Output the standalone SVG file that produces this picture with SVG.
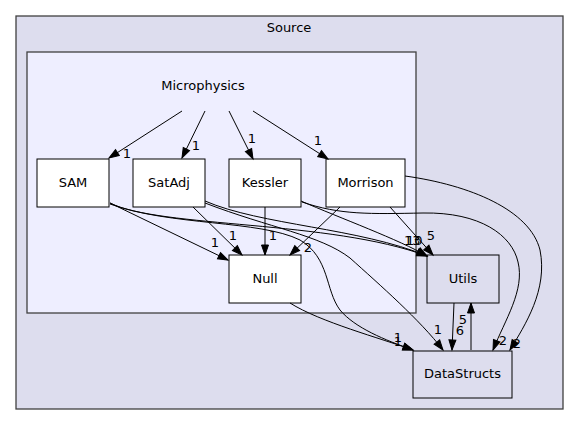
<svg xmlns="http://www.w3.org/2000/svg" width="579" height="425" viewBox="0 0 579 425">
<defs>
<marker id="ah" markerUnits="userSpaceOnUse" markerWidth="10" markerHeight="8" refX="10" refY="3.5" orient="auto" overflow="visible">
<path d="M0,0 L10,3.5 L0,7 z" fill="#000" stroke="#000" stroke-width="1"/>
</marker>
<style>
text{font-family:"DejaVu Sans","Noto Sans",sans-serif;font-size:13px;fill:#000}
.c{text-anchor:middle}
.node rect{fill:#fff;stroke:#000;stroke-width:1}
.edges path{fill:none;stroke:#000;stroke-width:1;marker-end:url(#ah)}
</style>
</defs>
<rect width="579" height="425" fill="#fff"/>
<g id="cluster_source">
<rect x="16" y="16" width="547" height="393" fill="#ddddee" stroke="#404040" stroke-width="1.3"/>
<text class="c" x="289" y="32">Source</text>
</g>
<g id="cluster_microphysics">
<rect x="27" y="52" width="389" height="261" fill="#eeeeff" stroke="#404040" stroke-width="1.3"/>
<text class="c" x="203" y="90">Microphysics</text>
</g>
<g id="SAM" class="node"><rect x="37" y="159" width="72" height="48"/><text class="c" x="73" y="187">SAM</text></g>
<g id="SatAdj" class="node"><rect x="133" y="159" width="72" height="48"/><text class="c" x="169" y="187">SatAdj</text></g>
<g id="Kessler" class="node"><rect x="229" y="159" width="72" height="48"/><text class="c" x="265" y="187">Kessler</text></g>
<g id="Morrison" class="node"><rect x="326" y="159" width="79" height="48"/><text class="c" x="365.5" y="187">Morrison</text></g>
<g id="Null" class="node"><rect x="229" y="255" width="72" height="48"/><text class="c" x="265" y="283">Null</text></g>
<g id="Utils" class="node"><rect x="427" y="255" width="72" height="48" style="fill:#ddddee"/><text class="c" x="463" y="283">Utils</text></g>
<g id="DataStructs" class="node"><rect x="413" y="351" width="99" height="47" style="fill:#ddddee"/><text class="c" x="462.5" y="378">DataStructs</text></g>
<g id="edges" class="edges">
<path d="M182,111 L109,158"/>
<path d="M205,111 L182,158"/>
<path d="M229,111 L253,159"/>
<path d="M253,111 L328,159"/>
<path d="M110,203 L228,260"/>
<path d="M193,207 L242,255"/>
<path d="M265,207 L265,255"/>
<path d="M340,207 L290,255"/>
<path d="M390,207 L433,255"/>
<path d="M110,203 C160,228 330,220 427,256"/>
<path d="M205,201 C260,225 360,228 427,256"/>
<path d="M301,201 C340,218 400,240 427,256"/>
<path d="M110,204 C170,226 260,220 300,240 C330,258 325,290 340,310 C355,328 385,340 413,350"/>
<path d="M205,203 C270,228 320,235 350,258 C380,285 420,320 443,350"/>
<path d="M302,202 C340,215 370,214 423,213 C480,212 512,235 518,262 C525,290 505,320 493,350"/>
<path d="M405,176 C470,185 530,210 540,250 C548,290 525,325 510,350"/>
<path d="M290,303 C320,322 380,338 413,350"/>
<path d="M454,303 L452,350"/>
<path d="M471,350 L471,303"/>
</g>
<g id="edge_labels">
<text class="c" x="127" y="158">1</text>
<text class="c" x="196" y="150">1</text>
<text class="c" x="252" y="143">1</text>
<text class="c" x="318" y="145">1</text>
<text class="c" x="215" y="247">1</text>
<text class="c" x="233" y="240">1</text>
<text class="c" x="273" y="240">1</text>
<text class="c" x="308" y="252">2</text>
<text class="c" x="431" y="240">5</text>
<text x="404" y="245">13</text>
<text x="406" y="245">10</text>
<text class="c" x="438" y="334">1</text>
<text class="c" x="503" y="345">2</text>
<text class="c" x="517" y="348">2</text>
<text class="c" x="398" y="342">1</text>
<text class="c" x="398" y="346">1</text>
<text class="c" x="460" y="335">6</text>
<text class="c" x="463" y="324">5</text>
</g>
</svg>
